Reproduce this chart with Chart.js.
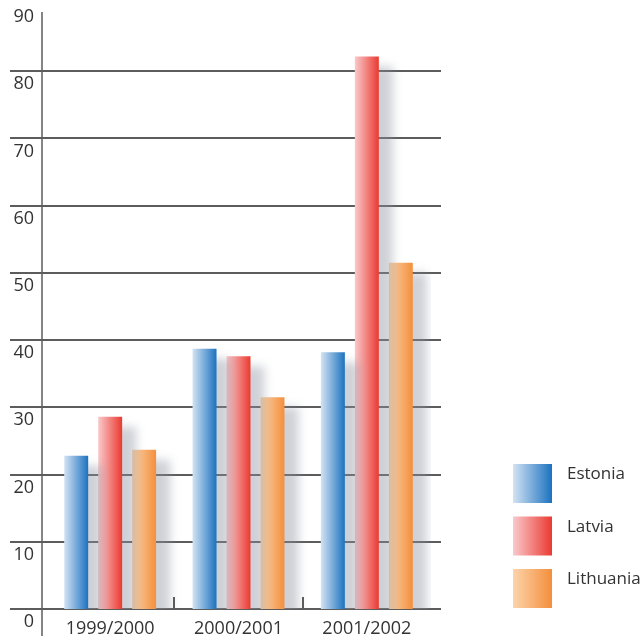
<!doctype html>
<html>
<head>
	<title>Baltic states bar chart</title>
	<script src="https://cdn.jsdelivr.net/npm/chart.js@4/dist/chart.umd.min.js"></script>
	<style>
		html, body { margin: 0; padding: 0; background: #fff; }
		#holder { width: 643px; height: 636px; }
	</style>
</head>
<body>
	<div id="holder"><canvas id="chart" width="643" height="636"></canvas></div>
	<script>
		var seasons = ['1999/2000', '2000/2001', '2001/2002'];
		var countries = ['Estonia', 'Latvia', 'Lithuania'];
		var estonia = [22.8, 38.7, 38.2];
		var latvia = [28.6, 37.6, 82.2];
		var lithuania = [23.7, 31.5, 51.5];
		var yTicks = [0, 10, 20, 30, 40, 50, 60, 70, 80, 90];

		// light -> saturated, left to right
		var gradStops = [
			['#d3e3f3', '#1c72c0'],
			['#fac9cc', '#ea3a30'],
			['#fcd4ab', '#f48f3c']
		];

		var textColor = '#333333';
		var lineColor = '#5c5c5c';

		function fillGrad(ctx, x0, x1, i) {
			var g = ctx.createLinearGradient(x0, 0, x1, 0);
			g.addColorStop(0, gradStops[i][0]);
			g.addColorStop(1, gradStops[i][1]);
			return g;
		}

		var decor = {
			id: 'decor',
			beforeDatasetsDraw: function(chart) {
				var ctx = chart.ctx;
				var ys = chart.scales.y;
				var area = chart.chartArea;

				// grid lines, running past the plot on both sides
				ctx.save();
				ctx.strokeStyle = lineColor;
				ctx.lineWidth = 2;
				yTicks.forEach(function(v) {
					if (v === 90) return;
					var y = Math.round(ys.getPixelForValue(v));
					ctx.beginPath();
					ctx.moveTo(10, y);
					ctx.lineTo(area.right + 10, y);
					ctx.stroke();
				});
				ctx.restore();

				// per-bar gradients
				chart.data.datasets.forEach(function(ds, di) {
					chart.getDatasetMeta(di).data.forEach(function(el) {
						var o = Object.assign({}, el.options);
						o.backgroundColor = fillGrad(ctx, el.x - el.width / 2, el.x + el.width / 2, di);
						el.options = o;
					});
				});

				// soft drop shadow behind the bars
				ctx.save();
				ctx.shadowColor = 'rgba(140, 146, 160, 0.42)';
				ctx.shadowBlur = 10;
				ctx.shadowOffsetX = 14;
				ctx.shadowOffsetY = 10;
			},
			afterDatasetsDraw: function(chart) {
				var ctx = chart.ctx;
				ctx.restore();

				var xs = chart.scales.x;
				var ys = chart.scales.y;
				var area = chart.chartArea;
				var y0 = Math.round(ys.getPixelForValue(0));

				ctx.save();
				ctx.strokeStyle = lineColor;

				// vertical axis
				ctx.lineWidth = 1.5;
				ctx.beginPath();
				ctx.moveTo(area.left - 4, ys.getPixelForValue(90) + 8);
				ctx.lineTo(area.left - 4, chart.height);
				ctx.stroke();

				// separators between seasons
				ctx.lineWidth = 2;
				for (var i = 0; i < seasons.length - 1; i++) {
					var x = Math.round((xs.getPixelForValue(i) + xs.getPixelForValue(i + 1)) / 2);
					ctx.beginPath();
					ctx.moveTo(x, y0 - 12);
					ctx.lineTo(x, y0);
					ctx.stroke();
				}
				ctx.restore();
			},
			afterDraw: function(chart) {
				var ctx = chart.ctx;
				ctx.save();
				ctx.font = '17px "Open Sans"';
				ctx.fillStyle = textColor;
				ctx.textBaseline = 'alphabetic';
				countries.forEach(function(name, i) {
					var top = 464 + i * 52.5;
					ctx.fillStyle = fillGrad(ctx, 513, 552, i);
					ctx.fillRect(513, top, 39, 39);
					ctx.fillStyle = textColor;
					ctx.fillText(name, 567, top + 15);
				});
				ctx.restore();
			}
		};

		var chartData = {
			labels: seasons,
			datasets: [
				{ label: countries[0], data: estonia },
				{ label: countries[1], data: latvia },
				{ label: countries[2], data: lithuania }
			].map(function(ds, i) {
				ds.backgroundColor = function() { return gradStops[i][1]; };
				ds.borderWidth = 0;
				ds.barPercentage = 0.706;
				ds.categoryPercentage = 0.794;
				return ds;
			})
		};

		new Chart(document.getElementById('chart'), {
			type: 'bar',
			data: chartData,
			plugins: [decor],
			options: {
				responsive: false,
				animation: false,
				layout: { padding: { top: 4, right: 212, left: 0, bottom: 0 } },
				plugins: {
					legend: { display: false },
					tooltip: { enabled: false }
				},
				scales: {
					x: {
						grid: { display: false },
						border: { display: false },
						ticks: {
							color: textColor,
							font: { family: 'Open Sans', size: 18 },
							padding: 1
						},
						afterFit: function(scale) {
							scale.height = 27;
							scale.paddingLeft = 0;
							scale.paddingRight = 0;
						}
					},
					y: {
						min: 0,
						max: 90,
						grid: { display: false, drawTicks: false },
						border: { display: false },
						afterBuildTicks: function(scale) {
							scale.ticks = yTicks.map(function(v) { return { value: v }; });
						},
						ticks: {
							color: textColor,
							font: { family: 'Open Sans', size: 18 },
							padding: 12,
							labelOffset: 13
						},
						afterFit: function(scale) {
							scale.width = 46;
							scale.paddingTop = 0;
							scale.paddingBottom = 0;
						}
					}
				}
			}
		});
	</script>
</body>
</html>
